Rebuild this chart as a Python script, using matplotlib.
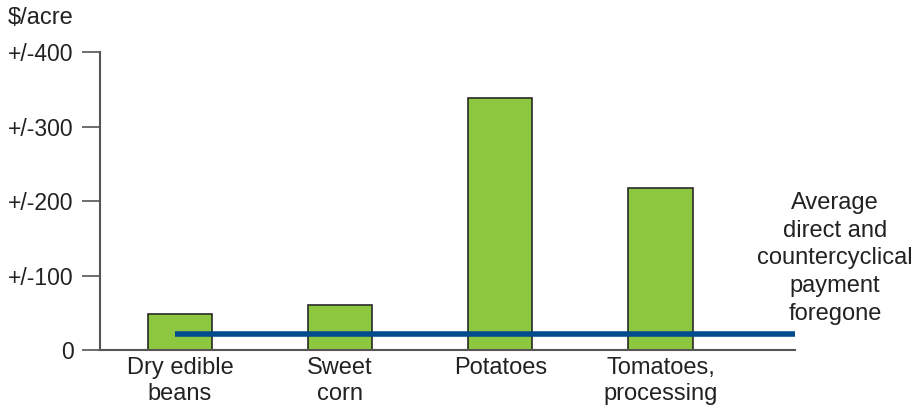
import numpy as np
import matplotlib.pyplot as plt

plt.rcParams['font.family'] = ['Liberation Sans', 'DejaVu Sans']

crops = ["Dry edible\nbeans", "Sweet\ncorn", "Potatoes", "Tomatoes,\nprocessing"]
change_per_acre = [48, 60, 339, 218]
payment_foregone = 22
y_ticks = [0, 100, 200, 300, 400]
y_tick_labels = ["0", "+/-100", "+/-200", "+/-300", "+/-400"]

fig = plt.figure(figsize=(9.16, 4.08), dpi=100)
ax = fig.add_axes([0.109, 0.142, 0.759, 0.730])

x = np.arange(len(crops))
ax.bar(x, change_per_acre, width=0.4, color="#8dc63f", edgecolor="#2a2a2a",
       linewidth=1.2, zorder=2)

# average payment line runs from the first bar across to the axis end
ax.plot([-0.03, 3.84], [payment_foregone, payment_foregone], color="#004b8d",
        linewidth=4, solid_capstyle="butt", zorder=3)

ax.set_xlim(-0.5, 3.84)
ax.set_ylim(0, 400)
ax.set_xticks(x)
ax.set_xticklabels(crops, fontsize=17, color="#222222", linespacing=1.22)
ax.set_yticks(y_ticks)
ax.set_yticklabels(y_tick_labels, fontsize=16.5, color="#222222")
ax.tick_params(axis="x", length=0, pad=5)
ax.tick_params(axis="y", length=13, width=1.2, color="#555555", pad=6)

for side in ["top", "right"]:
    ax.spines[side].set_visible(False)
for side in ["left", "bottom"]:
    ax.spines[side].set_color("#555555")
    ax.spines[side].set_linewidth(1.5)

ax.text(4.09, 123, "Average\ndirect and\ncountercyclical\npayment\nforegone",
        ha="center", va="center", fontsize=17, color="#222222",
        linespacing=1.35, clip_on=False)

fig.text(0.008, 0.93, "$/acre", fontsize=17, color="#222222", va="bottom")

fig.savefig("out.png", dpi=100)
